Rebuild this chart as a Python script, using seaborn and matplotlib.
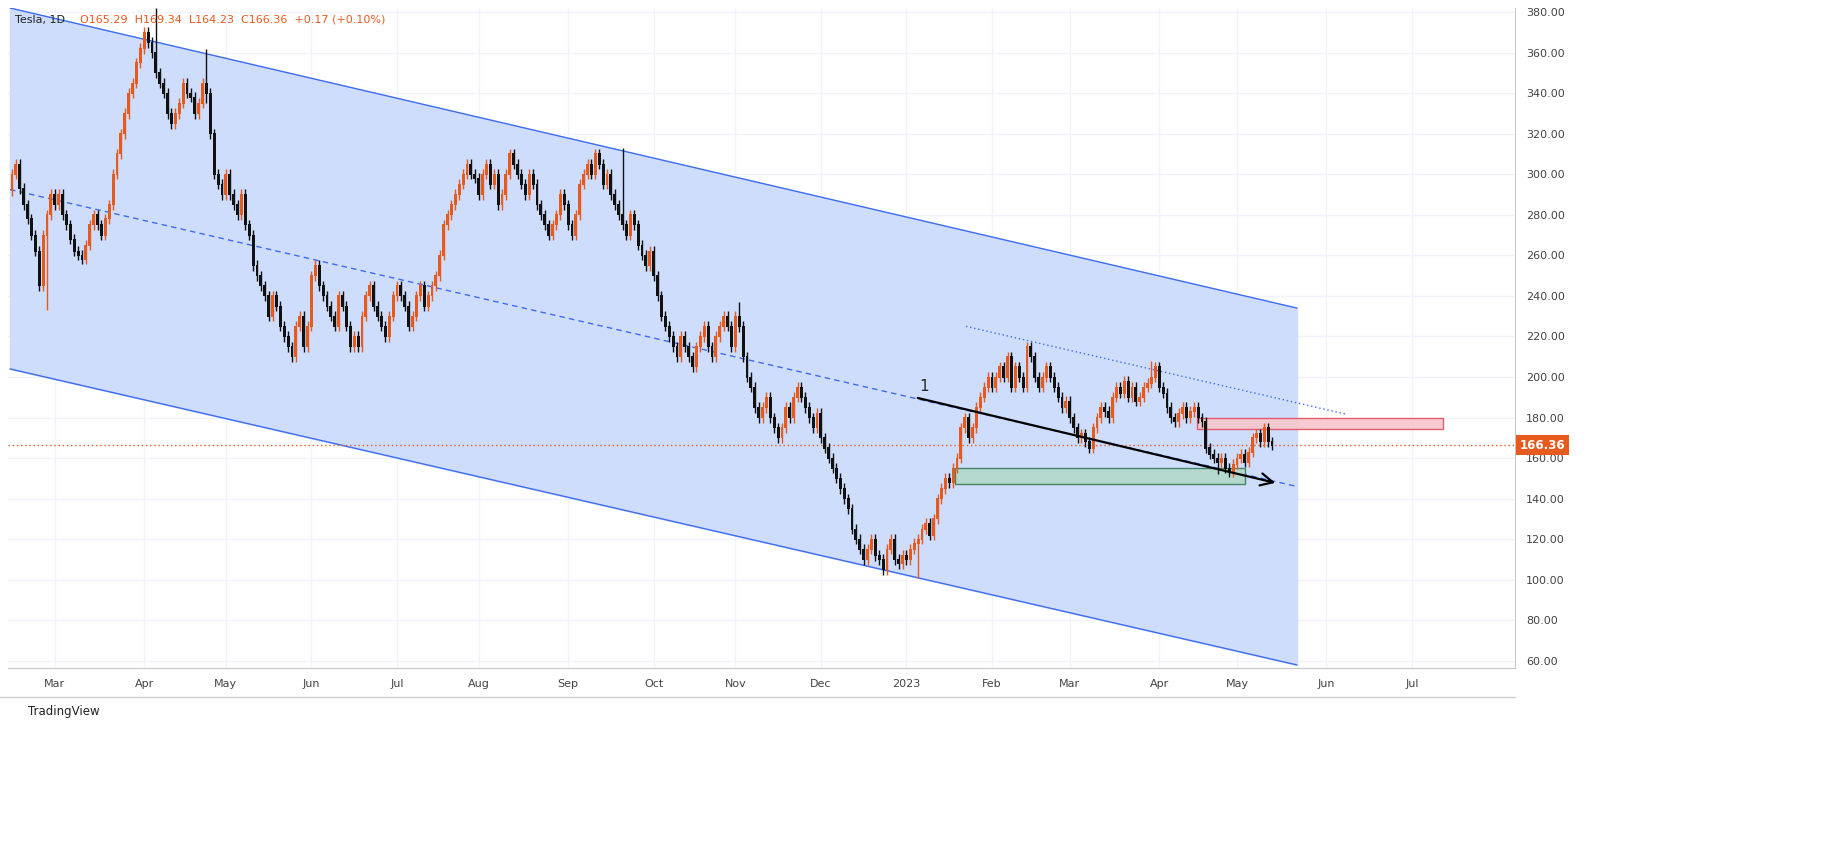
import numpy as np
import pandas as pd
import matplotlib
matplotlib.use("Agg")
import matplotlib.pyplot as plt
import seaborn as sns

start_date = "2022-02-14"
feb22 = [300,305,293,285,278,270,262,245,270,280,290]
mar22 = [285,290,280,275,268,262,260,258,265,275,280,275,270,278,285,300,310,320,330,340,345,355,362]
apr22 = [370,365,360,350,345,340,330,325,330,335,345,340,338,330,335,345,340,320,300,295,290]
may22 = [300,290,285,280,290,275,270,255,250,245,240,230,240,235,225,220,215,210,225,230,215,225]
jun22 = [250,255,245,240,235,230,225,240,235,225,215,220,215,230,240,245,235,230,225,220,230,240]
jul22 = [245,240,235,225,230,240,245,235,240,245,250,260,275,280,285,290,295,300,305,300,298]
aug22 = [290,300,305,295,300,285,290,300,310,305,300,295,290,300,295,285,280,275,270,275,280,290,285]
sep22 = [275,270,280,295,300,305,300,310,305,295,300,290,285,280,275,270,280,275,265,260,255,262]
oct22 = [250,240,230,225,220,215,210,220,215,210,205,215,220,225,215,210,220,225,230,225,215]
nov22 = [230,225,210,200,195,185,180,185,190,180,175,170,175,185,180,190,195,190,185,180,175,182]
dec22 = [170,165,160,155,150,145,140,135,125,120,115,110,115,120,112,110,105,115,120,110,108,112]
jan23 = [110,115,118,120,125,128,122,130,140,145,150,148,155,160,175,180,170,175,185,190,195,200]
feb23 = [195,200,205,200,210,195,205,200,195,215,210,200,195,200,205,200,195,190,185,188]
mar23 = [180,175,170,172,168,165,175,180,185,183,180,190,195,192,198,190,195,188,190,195,197,200,205]
apr23 = [195,192,185,180,178,182,185,180,183,185,180,178,165,162,160,158,160,155,153,157]
may23 = [160,162,158,163,170,172,168,175,168,166.36]
first_open = 292
# wick spikes: (pixel-x in reference, high, low)
wick_spikes = [(46, 262, 233), (155, 382, 362), (205, 362, 335), (622, 313, 296),
               (740, 237, 222), (918, 108, 101), (1150, 208, 198), (1218, 157, 152)]

upper_ch = ((10, 382.0), (1297, 234.0))
lower_ch = ((10, 204.0), (1297, 58.0))
mid_ch = ((10, 292.5), (1297, 146.0))
dotted_line = ((966, 225.0), (1345, 181.8))
arrow_line = ((915, 190.0), (1278, 147.5))
green_box = (955, 1245, 147.0, 155.0)
red_box = (1197, 1443, 174.4, 180.0)
last_price = 166.36
max_label_month = "2023-07"

closes = np.array(feb22+mar22+apr22+may22+jun22+jul22+aug22+sep22+oct22+nov22+dec22+jan23+feb23+mar23+apr23+may23, float)
n = len(closes)
s = (1272 - 12) / (n - 1)
def px(p):
    return (p - 12) / s

opens = np.r_[first_open, closes[:-1]]
idx = np.arange(n)
highs = np.maximum(opens, closes) + 2.5
lows = np.minimum(opens, closes) - 2.5
for p, h, l in wick_spikes:
    k = int(round(px(p)))
    highs[k] = max(highs[k], h); lows[k] = min(lows[k], l)

dates = pd.bdate_range(start_date, periods=n + 60)

sns.set_style("white")
fig = plt.figure(figsize=(18.43, 8.52), dpi=100)
ax = fig.add_axes([8/1843, (852-668)/852, (1515-8)/1843, (668-8)/852])

for y in range(60, 381, 20):
    ax.axhline(y, color="#f0f3fa", lw=1, zorder=0)
month_pos, month_lab = [], []
prev = None
for i, d in enumerate(dates):
    if d > pd.Timestamp(max_label_month + "-28"):
        break
    if prev is not None and d.month != prev.month:
        month_pos.append(i)
        month_lab.append("2023" if d.month == 1 else d.strftime("%b"))
    prev = d
for p in month_pos:
    ax.axvline(p, color="#f0f3fa", lw=1, zorder=0)

def seg(pts):
    return np.array([px(pts[0][0]), px(pts[1][0])]), np.array([pts[0][1], pts[1][1]])

xu, yu = seg(upper_ch); xl, yl = seg(lower_ch); xm, ym = seg(mid_ch); xd, yd = seg(dotted_line)
ax.fill_between(xu, yl, yu, color="#cfddfd", zorder=1)
sns.lineplot(x=xu, y=yu, color="#3d6cf0", lw=1, ax=ax, zorder=2)
sns.lineplot(x=xl, y=yl, color="#3d6cf0", lw=1, ax=ax, zorder=2)
sns.lineplot(x=xm, y=ym, color="#3d6cf0", lw=1, ls=(0, (4, 3)), ax=ax, zorder=2)
ax.plot(xd, yd, color="#3d6cf0", lw=1, ls=(0, (1, 2)), zorder=2)

ax.add_patch(plt.Rectangle((px(green_box[0]), green_box[2]), px(green_box[1]) - px(green_box[0]),
             green_box[3]-green_box[2], facecolor="#b2d8c8", edgecolor="#3a7a5a", lw=1, alpha=0.9, zorder=3))
ax.add_patch(plt.Rectangle((px(red_box[0]), red_box[2]), px(red_box[1]) - px(red_box[0]),
             red_box[3]-red_box[2], facecolor="#f7c6cc", edgecolor="#e05060", lw=1, alpha=0.9, zorder=3))

up = closes >= opens
col = np.where(up, "#e65a1e", "#111111")
ax.vlines(idx, lows, highs, colors=col, lw=1, zorder=4)
ax.bar(idx, np.abs(closes - opens) + 0.5, bottom=np.minimum(opens, closes) - 0.25, width=0.75,
       color=col, zorder=5, linewidth=0)

(a0, b0), (a1, b1) = arrow_line
ax.annotate("", xy=(px(a1), b1), xytext=(px(a0), b0),
            arrowprops=dict(arrowstyle="->", color="black", lw=1.6, mutation_scale=22), zorder=6)
ax.text(px(a0) + 1, b0 + 3, "1", fontsize=11, zorder=6)

ax.axhline(last_price, color="#e65a1e", lw=1, ls=(0, (1, 2)), zorder=3)

ax.set_xlim(px(8), px(1515))
ax.set_ylim(56.5, 382)
ax.yaxis.tick_right()
ax.set_yticks(range(60, 381, 20))
ax.set_yticklabels([f"{v:.2f}" for v in range(60, 381, 20)], fontsize=8, color="#444")
ax.set_xticks(month_pos)
ax.set_xticklabels(month_lab, fontsize=8, color="#444")
ax.tick_params(length=0, pad=8)
for sp in ["top", "left"]:
    ax.spines[sp].set_visible(False)
ax.spines["right"].set_color("#c8c8c8")
ax.spines["bottom"].set_color("#c8c8c8")
ax.text(1.003, (last_price-56.5)/(382-56.5), f"{last_price:.2f}", transform=ax.transAxes,
        fontsize=8.5, color="white", fontweight="bold", va="center", ha="left",
        bbox=dict(facecolor="#e65a1e", edgecolor="none", pad=2.5))

fig.text(15/1843, 1-20/852, "Tesla, 1D", fontsize=8, color="#222", va="center")
fig.text(80/1843, 1-20/852, "O165.29  H169.34  L164.23  C166.36  +0.17 (+0.10%)", fontsize=8,
         color="#e65a1e", va="center")
fig.text(28/1843, 1-711/852, "TradingView", fontsize=8.5, color="#222", va="center")
fig.add_artist(plt.Line2D([0, 1515/1843], [1-697/852]*2, color="#d0d0d0", lw=1))
fig.savefig("out.png", dpi=100, facecolor="white")
